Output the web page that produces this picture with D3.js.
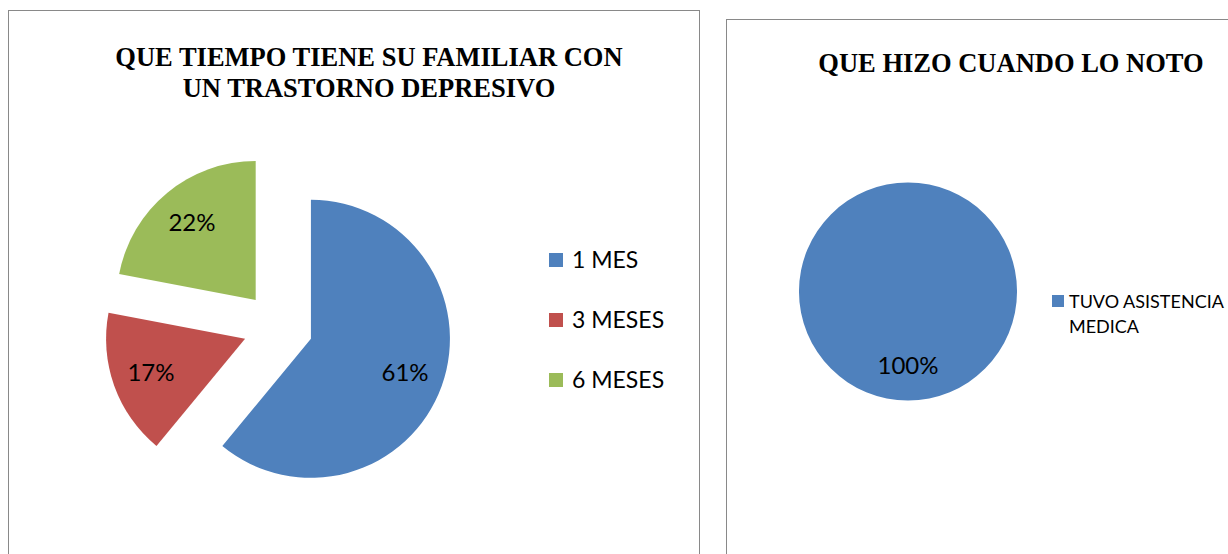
<!DOCTYPE html>
<html>
<head>
<meta charset="utf-8">
<script src="https://cdn.jsdelivr.net/npm/d3@7"></script>
<style>
  html, body { margin: 0; padding: 0; background: #fff; }
  svg { display: block; }
  .ttl { font-family: "Liberation Serif", "Times New Roman", "DejaVu Serif", serif; font-weight: bold; }
  .lbl { font-family: "Lato", "Open Sans", sans-serif; }
</style>
</head>
<body>
<svg id="chart" width="1228" height="554"></svg>
<script>
// ---- Data ----
const title1Lines = ["QUE TIEMPO TIENE SU FAMILIAR CON", "UN TRASTORNO DEPRESIVO"];
const categories1 = ["1 MES", "3 MESES", "6 MESES"];
const values1 = [61, 17, 22];
const colors1 = ["#4F81BD", "#C0504D", "#9BBB59"];

const title2Lines = ["QUE HIZO CUANDO LO NOTO"];
const categories2 = [["TUVO ASISTENCIA", "MEDICA"]];
const values2 = [100];
const colors2 = ["#4F81BD"];

const svg = d3.select("#chart");

// ---- Panel frames ----
svg.append("rect").attr("x", 8.5).attr("y", 10.5).attr("width", 691).attr("height", 560)
  .attr("fill", "#fff").attr("stroke", "#898989").attr("stroke-width", 1);
svg.append("rect").attr("x", 726.5).attr("y", 19.5).attr("width", 560).attr("height", 560)
  .attr("fill", "#fff").attr("stroke", "#898989").attr("stroke-width", 1);

// ---- Left chart ----
const g1 = svg.append("g");
g1.selectAll("text.ttl").data(title1Lines).join("text")
  .attr("class", "ttl")
  .attr("x", 369).attr("y", (d, i) => 66 + i * 31)
  .attr("text-anchor", "middle")
  .attr("font-size", 26.5)
  .attr("fill", "#000").text(d => d);

const pie = d3.pie().sort(null).value(d => d);
const cx1 = 278, cy1 = 327, r1 = 139, explode = 35;
const arcs1 = pie(values1);
const arc1 = d3.arc().innerRadius(0).outerRadius(r1);
const labelArc1 = d3.arc().innerRadius(100).outerRadius(100);
const pieG1 = g1.append("g").attr("transform", `translate(${cx1},${cy1})`);
const slices = pieG1.selectAll("g.slice").data(arcs1).join("g")
  .attr("class", "slice")
  .attr("transform", d => {
    const a = (d.startAngle + d.endAngle) / 2;
    return `translate(${explode * Math.sin(a)},${-explode * Math.cos(a)})`;
  });
slices.append("path").attr("d", arc1).attr("fill", (d, i) => colors1[i]);
slices.append("text")
  .attr("class", "lbl")
  .attr("transform", d => `translate(${labelArc1.centroid(d)})`)
  .attr("text-anchor", "middle").attr("dy", "0.35em")
  .attr("font-size", 24).attr("fill", "#000")
  .text(d => Math.round(d.value / d3.sum(values1) * 100) + "%");

const legendY = d3.scalePoint().domain(categories1).range([260, 380]);
const leg1 = g1.selectAll("g.leg").data(categories1).join("g")
  .attr("class", "leg").attr("transform", d => `translate(549,${legendY(d)})`);
leg1.append("rect").attr("x", 0).attr("y", -7).attr("width", 14).attr("height", 14)
  .attr("fill", (d, i) => colors1[i]);
leg1.append("text").attr("class", "lbl").attr("x", 23).attr("y", 8)
  .attr("font-size", 23).attr("fill", "#000")
  .text(d => d);

// ---- Right chart ----
const g2 = svg.append("g");
g2.selectAll("text.ttl").data(title2Lines).join("text")
  .attr("class", "ttl")
  .attr("x", 1011).attr("y", (d, i) => 72 + i * 31)
  .attr("text-anchor", "middle")
  .attr("font-size", 26.5)
  .attr("fill", "#000").text(d => d);

const cx2 = 908, cy2 = 291.5, r2 = 109;
const arcs2 = pie(values2);
const arc2 = d3.arc().innerRadius(0).outerRadius(r2);
const labelArc2 = d3.arc().innerRadius(74).outerRadius(74);
const pieG2 = g2.append("g").attr("transform", `translate(${cx2},${cy2})`);
pieG2.selectAll("path").data(arcs2).join("path")
  .attr("d", arc2).attr("fill", (d, i) => colors2[i]);
pieG2.selectAll("text").data(arcs2).join("text")
  .attr("class", "lbl")
  .attr("transform", d => `translate(${labelArc2.centroid(d)})`)
  .attr("text-anchor", "middle").attr("dy", "0.35em")
  .attr("font-size", 24).attr("fill", "#000")
  .text(d => Math.round(d.value / d3.sum(values2) * 100) + "%");

const leg2 = g2.selectAll("g.leg").data(categories2).join("g")
  .attr("class", "leg").attr("transform", "translate(1052,301)");
leg2.append("rect").attr("x", 0).attr("y", -6).attr("width", 12).attr("height", 12)
  .attr("fill", (d, i) => colors2[i]);
leg2.append("text").attr("class", "lbl")
  .attr("font-size", 18).attr("fill", "#000")
  .selectAll("tspan").data(d => d).join("tspan")
  .attr("x", 17).attr("y", (d, i) => 7 + i * 25).text(d => d);
</script>
</body>
</html>
